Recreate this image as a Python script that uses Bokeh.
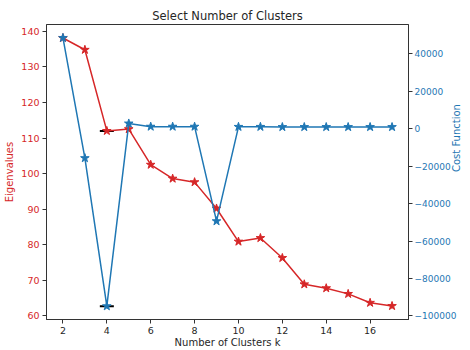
import math
from bokeh.plotting import figure
from bokeh.models import Range1d, LinearAxis, FixedTicker, CustomJSTickFormatter
from bokeh.embed import file_html
from bokeh.resources import INLINE

k = [2, 3, 4, 5, 6, 7, 8, 9, 10, 11, 12, 13, 14, 15, 16, 17]
eigenvalues = [138.1, 134.8, 112.0, 112.5, 102.5, 98.6, 97.6, 90.2, 80.9, 81.9, 76.3, 68.9, 67.8, 66.2, 63.7, 62.8]
cost = [48500, -15700, -94800, 2800, 1100, 1100, 1100, -49400, 1000, 1000, 900, 900, 900, 900, 900, 900]
x_ticks = [2, 4, 6, 8, 10, 12, 14, 16]
left_ticks = [60, 70, 80, 90, 100, 110, 120, 130, 140]
right_ticks = [-100000, -80000, -60000, -40000, -20000, 0, 20000, 40000]

RED = "#d62728"
BLUE = "#1f77b4"
DARK = "#262626"
FONT = "DejaVu Sans"

p = figure(width=470, height=350, output_backend="svg", toolbar_location=None,
           x_range=Range1d(1.25, 17.75), y_range=Range1d(59.0, 141.9),
           min_border_left=46, min_border_right=59, min_border_top=24, min_border_bottom=31,
           title="Select Number of Clusters")
p.extra_y_ranges = {"cost": Range1d(-101900, 55650)}
p.grid.visible = False
p.outline_line_color = "#333333"
p.outline_line_width = 1
p.background_fill_color = "white"
p.border_fill_color = "white"

p.title.align = "center"
p.title.text_font = FONT
p.title.text_font_size = "11.5px"
p.title.text_font_style = "normal"
p.title.text_color = DARK
p.title.standoff = 4

def style_axis(ax, color, label, label_color, tick_size="9.5px", label_standoff=3):
    ax.axis_label = label
    ax.axis_label_text_font = FONT
    ax.axis_label_text_font_size = "10px"
    ax.axis_label_text_font_style = "normal"
    ax.axis_label_text_color = label_color
    ax.axis_label_standoff = label_standoff
    ax.major_label_text_font = FONT
    ax.major_label_text_font_size = tick_size
    ax.major_label_text_color = color
    ax.major_tick_in = 0
    ax.major_tick_out = 4
    ax.minor_tick_in = 0
    ax.minor_tick_out = 0
    ax.major_tick_line_color = "#333333"
    ax.axis_line_color = "#333333"
    ax.major_label_standoff = 3

p.xaxis.ticker = FixedTicker(ticks=x_ticks)
style_axis(p.xaxis[0], DARK, "Number of Clusters k", DARK, label_standoff=0)
p.yaxis.ticker = FixedTicker(ticks=left_ticks)
style_axis(p.yaxis[0], RED, "Eigenvalues", RED, label_standoff=3)

fmt = CustomJSTickFormatter(code="return tick < 0 ? '\\u2212' + Math.abs(tick) : String(tick);")
raxis = LinearAxis(y_range_name="cost", ticker=FixedTicker(ticks=right_ticks), formatter=fmt)
style_axis(raxis, BLUE, "Cost Function", BLUE, tick_size="9px", label_standoff=-3)
raxis.major_label_standoff = 2
if hasattr(raxis, "axis_label_orientation"):
    raxis.axis_label_orientation = math.pi / 2
p.add_layout(raxis, "right")

# black dash markers at k=4
p.scatter([k[2]], [eigenvalues[2]], marker="dash", size=14, line_color="black", line_width=2)
p.scatter([k[2]], [cost[2]], marker="dash", size=14, line_color="black", line_width=2, y_range_name="cost")

p.line(k, eigenvalues, line_color=RED, line_width=1.5)
p.scatter(k, eigenvalues, marker="star", size=9, fill_color=RED, line_color=RED)
p.line(k, cost, line_color=BLUE, line_width=1.5, y_range_name="cost")
p.scatter(k, cost, marker="star", size=9, fill_color=BLUE, line_color=BLUE, y_range_name="cost")

open("out.html", "w").write(file_html(p, INLINE))
